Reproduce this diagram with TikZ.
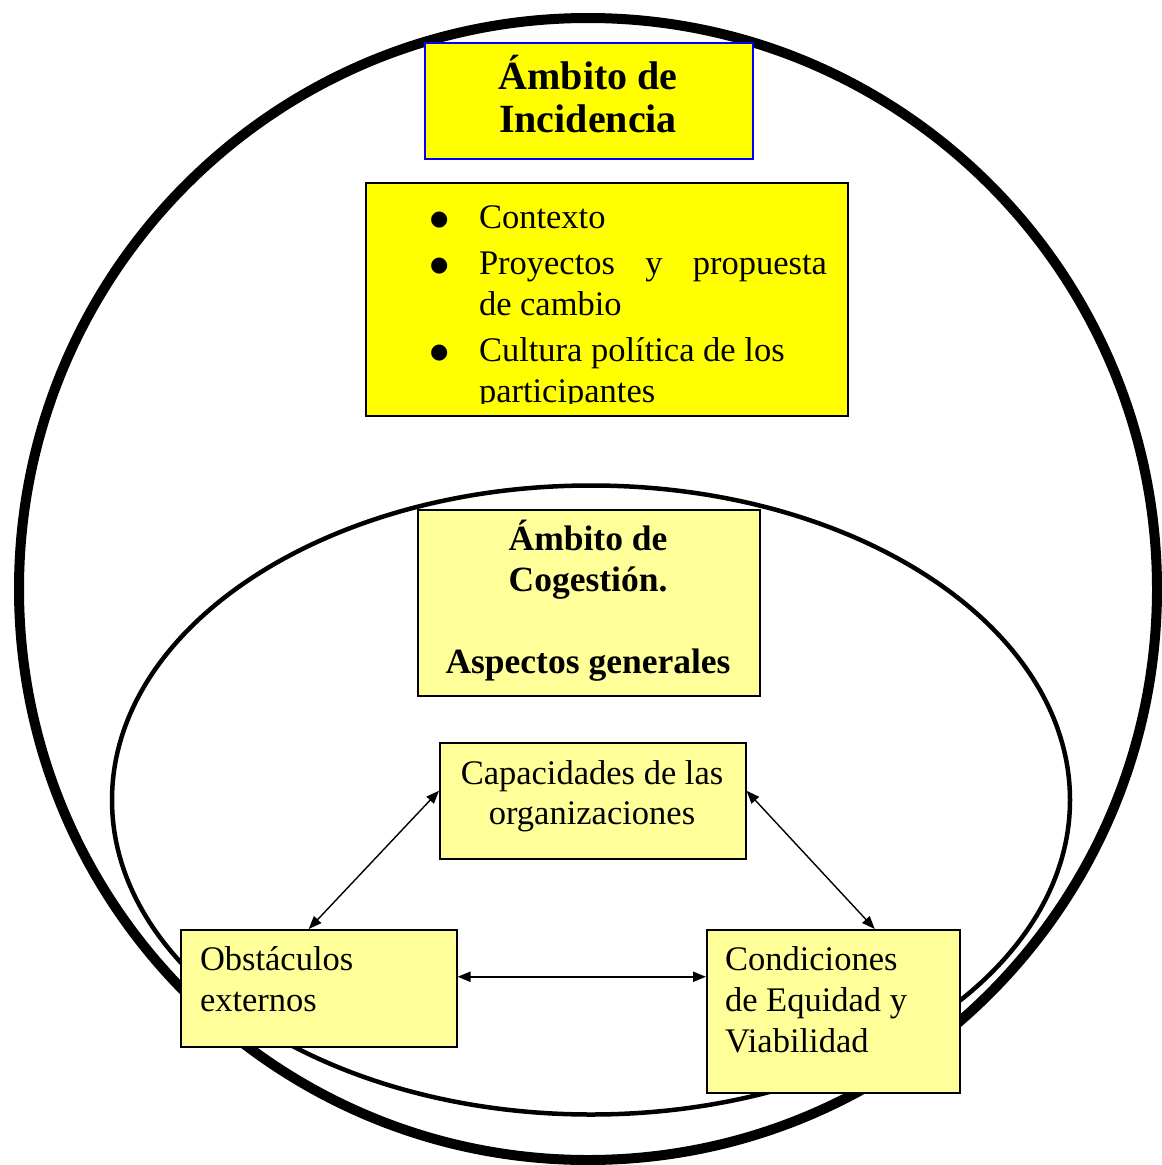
\documentclass[tikz,border=0pt]{standalone}
\usepackage{fontspec}
\setmainfont{Liberation Serif}
\newfontfamily\dejavu{DejaVu Sans}
\usetikzlibrary{arrows.meta}
\definecolor{yel}{HTML}{FFFF00}
\definecolor{lyel}{HTML}{FFFF99}
\newcommand{\bigbul}{\makebox[45pt][l]{\hspace*{-4pt}\raisebox{3pt}{\dejavu\fontsize{21}{41}\selectfont ●}}}
\begin{document}
\begin{tikzpicture}[x=1pt,y=-1pt,
  box/.style={draw=black, line width=1.5pt, rectangle, inner sep=0pt, anchor=north west},
  txt/.style={inner sep=0pt, outer sep=0pt},
  bodyfont/.style={font=\fontsize{34.5}{41}\selectfont},
  link/.style={{Triangle[length=13pt,width=10pt]}-{Triangle[length=13pt,width=10pt]}, line width=1.4pt}]
\useasboundingbox (0,0) rectangle (1162,1165);
% ellipses
\draw[line width=10pt] (588,589) ellipse [x radius=569pt, y radius=571pt];
\draw[line width=4.5pt] (591,800) ellipse [x radius=479pt, y radius=314.5pt];
% title box
\node[box, draw=blue, fill=yel, minimum width=328pt, minimum height=116pt] (title) at (424,42) {};
\node[txt, anchor=base, font=\bfseries\fontsize{40}{43}\selectfont] (titletext) at (588,89)
  {\begin{tabular}[t]{@{}c@{}}Ámbito de\\Incidencia\end{tabular}};
% bullet box
\node[box, fill=yel, minimum width=482pt, minimum height=233pt] (list) at (365,182) {};
\begin{scope}
\clip (365,182) rectangle (847,403);
\node[txt, anchor=base west, bodyfont] (listtext) at (434,228)
  {\begin{tabular}[t]{@{}l@{}l@{}}
   \bigbul & Contexto\\[5pt]
   \bigbul & \hbox to 348pt{Proyectos\hfill y\hfill propuesta}\\
   & de cambio\\[5pt]
   \bigbul & Cultura política de los\\
   & participantes
   \end{tabular}};
\end{scope}
% cogestion box
\node[box, fill=lyel, minimum width=342pt, minimum height=186pt] (cog) at (417,509) {};
\node[txt, anchor=base, font=\bfseries\fontsize{35.5}{41}\selectfont] (cogtext) at (588,550)
  {\begin{tabular}[t]{@{}c@{}}Ámbito de\\Cogestión.\\ \\Aspectos generales\end{tabular}};
% capacidades
\node[box, fill=lyel, minimum width=306pt, minimum height=116pt] (cap) at (439,742) {};
\node[txt, anchor=base, font=\fontsize{34.5}{40}\selectfont] (captext) at (592,784)
  {\begin{tabular}[t]{@{}c@{}}Capacidades de las\\organizaciones\end{tabular}};
% obstaculos
\node[box, fill=lyel, minimum width=276pt, minimum height=117pt] (obs) at (180,929) {};
\node[txt, anchor=base west, bodyfont] (obstext) at (200,970)
  {\begin{tabular}[t]{@{}l@{}}Obstáculos\\externos\end{tabular}};
% condiciones
\node[box, fill=lyel, minimum width=253pt, minimum height=163pt] (cond) at (706,929) {};
\node[txt, anchor=base west, bodyfont] (condtext) at (725,970)
  {\begin{tabular}[t]{@{}l@{}}Condiciones\\de Equidad y\\Viabilidad\end{tabular}};
% connectors
\draw[link] ([yshift=10pt]cap.west) -- ([xshift=-10pt]obs.north);
\draw[link] ([yshift=10pt]cap.east) -- ([xshift=41.5pt]cond.north);
\coordinate (h) at ([yshift=11.5pt]obs.east);
\draw[link, line width=2pt] (h) -- (h -| cond.west);
\end{tikzpicture}
\end{document}
